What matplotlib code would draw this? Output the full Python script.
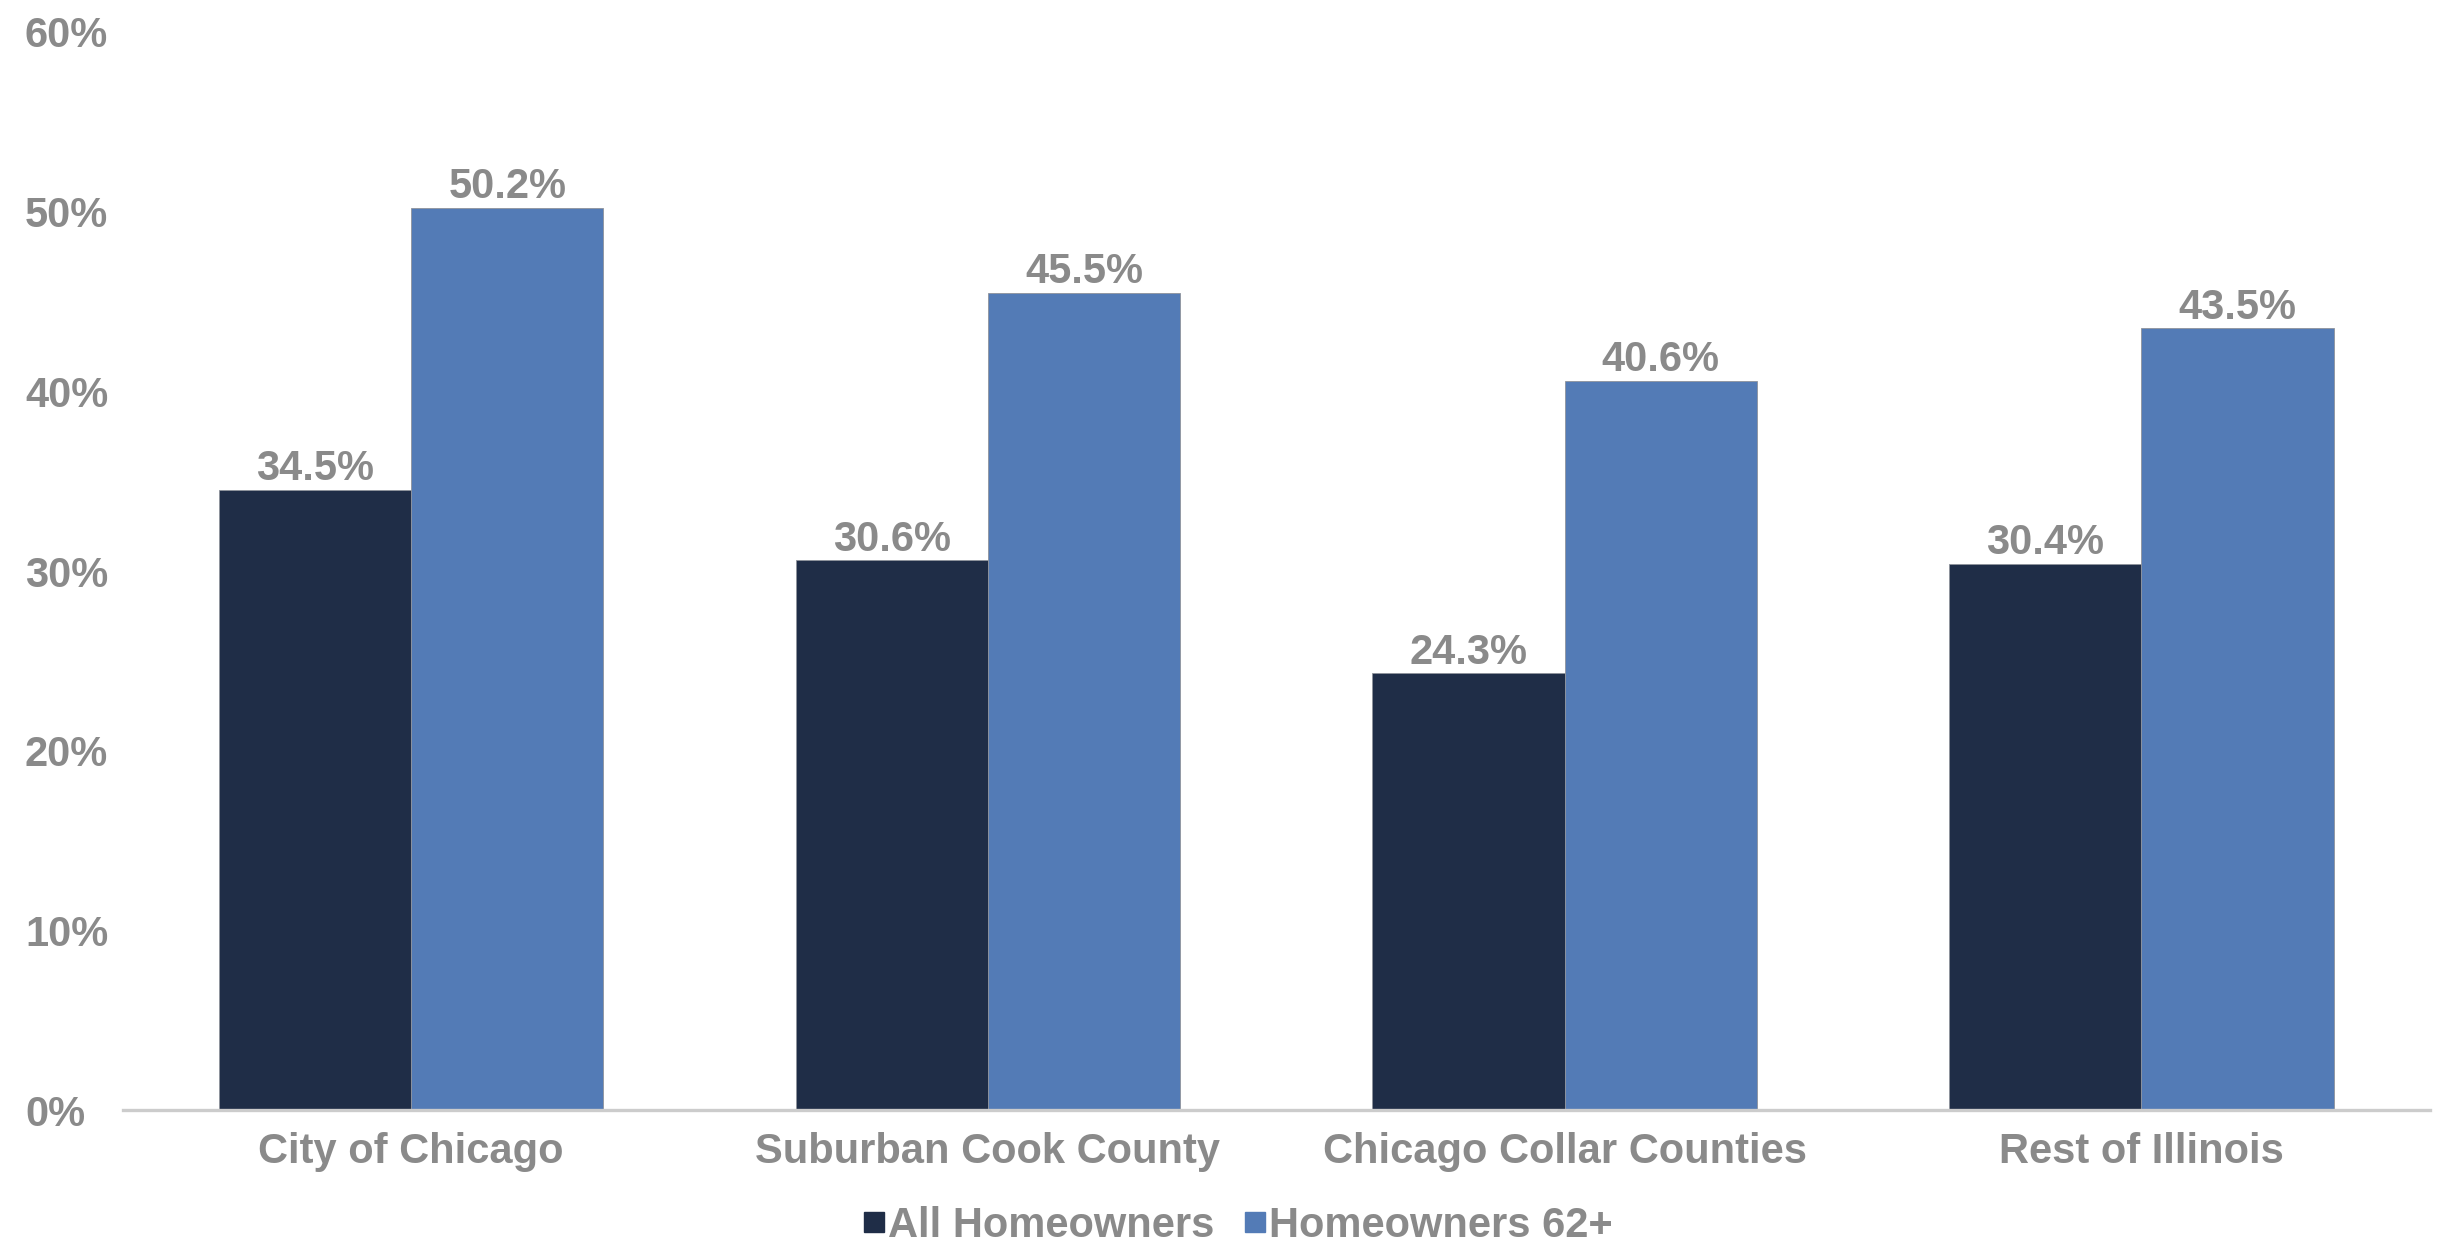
import matplotlib
matplotlib.use("Agg")
import matplotlib.pyplot as plt
from matplotlib.lines import Line2D
from matplotlib.ticker import FuncFormatter
import numpy as np

# Share of homeowners by region, in percent
regions = ["City of Chicago", "Suburban Cook County",
           "Chicago Collar Counties", "Rest of Illinois"]
all_homeowners = [34.5, 30.6, 24.3, 30.4]
homeowners_62 = [50.2, 45.5, 40.6, 43.5]
series_names = ["All Homeowners", "Homeowners 62+"]
y_ticks = [0, 10, 20, 30, 40, 50, 60]

DARK = "#1f2d47"
BLUE = "#537bb6"
GREY_TEXT = "#8a8a8a"
AXIS_GREY = "#cccccc"

plt.rcParams["font.family"] = ["Liberation Sans", "DejaVu Sans"]
plt.rcParams["font.weight"] = "bold"
FS = 30

fig = plt.figure(figsize=(24.43, 12.45), dpi=100)
ax = fig.add_axes([0.0503, 0.1084, 0.9443, 0.8659])

x = np.arange(len(regions))
w = 1 / 3
bars_all = ax.bar(x - w / 2, all_homeowners, width=w, color=DARK,
                  edgecolor="#8e939b", linewidth=0.6)
bars_62 = ax.bar(x + w / 2, homeowners_62, width=w, color=BLUE,
                 edgecolor="#8e939b", linewidth=0.6)

for bars, vals in ((bars_all, all_homeowners), (bars_62, homeowners_62)):
    for b, v in zip(bars, vals):
        ax.annotate(f"{v:.1f}%", (b.get_x() + b.get_width() / 2, v),
                    xytext=(0, 0.5), textcoords="offset points",
                    ha="center", va="bottom", fontsize=FS,
                    fontweight="bold", color=GREY_TEXT)

ax.set_xlim(-0.5, len(regions) - 0.5)
ax.set_ylim(0, 60)
ax.set_yticks(y_ticks)
ax.yaxis.set_major_formatter(FuncFormatter(lambda v, _: f"{v:.0f}%"))
ax.set_xticks(x)
ax.set_xticklabels(regions)

ax.tick_params(axis="x", length=0, pad=16, labelsize=FS, labelcolor=GREY_TEXT)
ax.tick_params(axis="y", length=0, pad=70.5, labelsize=FS, labelcolor=GREY_TEXT)
for lab in ax.get_yticklabels():
    lab.set_horizontalalignment("left")
for lab in ax.get_xticklabels() + ax.get_yticklabels():
    lab.set_fontweight("bold")

for side in ("top", "right", "left"):
    ax.spines[side].set_visible(False)
ax.spines["bottom"].set_color(AXIS_GREY)
ax.spines["bottom"].set_linewidth(2.4)

handles = [Line2D([], [], linestyle="none", marker="s", markersize=14,
                  markerfacecolor=c, markeredgecolor=c)
           for c in (DARK, BLUE)]
fig.legend(handles, series_names, loc="center",
           bbox_to_anchor=(0.507, 1 - 1226 / 1245), ncol=2, frameon=False,
           handlelength=0.45, handletextpad=0.12, columnspacing=0.75,
           borderpad=0, borderaxespad=0,
           prop={"size": FS, "weight": "bold"}, labelcolor=GREY_TEXT)

fig.savefig("out.png", dpi=100, facecolor="white")
